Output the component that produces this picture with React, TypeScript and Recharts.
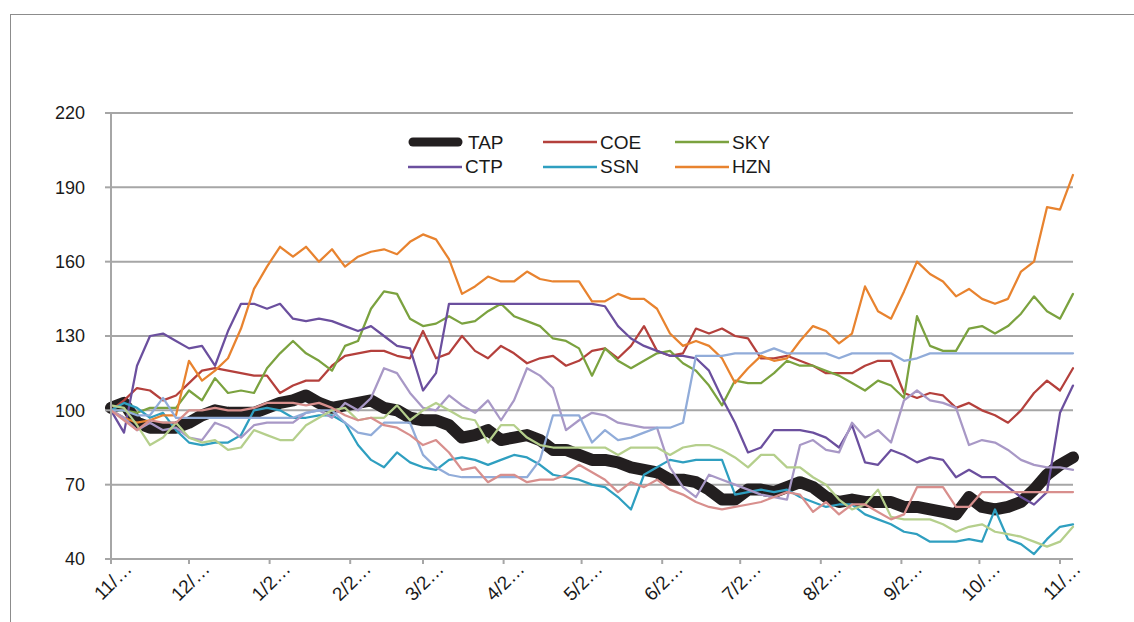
import { LineChart, Line, XAxis, YAxis, CartesianGrid, Legend } from 'recharts'

// sampling grid: days since 11/1, every 5 days
const days = [
  0, 5, 10, 15, 20, 25, 30, 35, 40, 45, 50, 55, 60, 65, 70, 75, 80, 85, 90, 95,
  100, 105, 110, 115, 120, 125, 130, 135, 140, 145, 150, 155, 160, 165, 170, 175, 180, 185, 190, 195,
  200, 205, 210, 215, 220, 225, 230, 235, 240, 245, 250, 255, 260, 265, 270, 275, 280, 285, 290, 295,
  300, 305, 310, 315, 320, 325, 330, 335, 340, 345, 350, 355, 360, 365, 370,
]

const monthTicks = [0, 30, 61, 92, 120, 151, 181, 212, 242, 273, 304, 334, 365]
const monthLabels = ['11/…', '12/…', '1/2…', '2/2…', '3/2…', '4/2…', '5/2…', '6/2…', '7/2…', '8/2…', '9/2…', '10/…', '11/…']
const yTicks = [40, 70, 100, 130, 160, 190, 220]
const legendOrder = ['TAP', 'COE', 'SKY', 'CTP', 'SSN', 'HZN']

const tap = [
  101, 103, 95, 93, 93, 93, 95, 98, 100, 99, 99, 99, 101, 103, 104, 106, 103, 101, 102, 103,
  104, 101, 100, 97, 96, 96, 94, 89, 90, 92, 88, 89, 90, 88, 84, 84, 82, 80, 80, 79,
  77, 76, 75, 72, 72, 71, 68, 64, 64, 68, 68, 67, 69, 71, 69, 65, 63, 64, 63, 63,
  63, 61, 61, 60, 59, 58, 65, 61, 60, 61, 63, 68, 74, 78, 81,
]
const coe = [
  100, 104, 109, 108, 104, 106, 111, 116, 117, 116, 115, 114, 114, 107, 110, 112, 112, 118, 122, 123,
  124, 124, 122, 121, 132, 121, 123, 130, 124, 121, 126, 123, 119, 121, 122, 118, 120, 124, 125, 121,
  126, 134, 124, 122, 123, 133, 131, 133, 130, 129, 121, 121, 122, 120, 118, 115, 115, 115, 118, 120,
  120, 107, 105, 107, 106, 101, 103, 100, 98, 95, 100, 107, 112, 108, 117,
]
const sky = [
  100, 100, 99, 101, 101, 101, 108, 104, 113, 107, 108, 107, 117, 123, 128, 123, 120, 116, 126, 128,
  141, 148, 147, 137, 134, 135, 138, 135, 136, 140, 143, 138, 136, 134, 129, 128, 125, 114, 125, 120,
  117, 120, 123, 124, 119, 116, 110, 102, 112, 111, 111, 115, 120, 118, 118, 116, 114, 111, 108, 112,
  110, 105, 138, 126, 124, 124, 133, 134, 131, 134, 139, 146, 140, 137, 147,
]
const ctp = [
  100, 91, 118, 130, 131, 128, 125, 126, 118, 132, 143, 143, 141, 143, 137, 136, 137, 136, 134, 132,
  134, 130, 126, 125, 108, 115, 143, 143, 143, 143, 143, 143, 143, 143, 143, 143, 143, 143, 142, 134,
  129, 126, 124, 122, 122, 121, 116, 105, 95, 83, 85, 92, 92, 92, 91, 89, 85, 94, 79, 78,
  84, 82, 79, 81, 80, 73, 76, 73, 73, 69, 65, 62, 67, 99, 110,
]
const ssn = [
  100, 103, 101, 97, 99, 92, 87, 86, 87, 87, 90, 100, 101, 100, 97, 97, 98, 98, 95, 86,
  80, 77, 83, 79, 77, 76, 80, 81, 80, 78, 80, 82, 81, 78, 74, 73, 72, 70, 69, 65,
  60, 74, 77, 80, 79, 80, 80, 80, 66, 67, 68, 67, 68, 65, 63, 61, 62, 62, 58, 56,
  54, 51, 50, 47, 47, 47, 48, 47, 60, 48, 46, 42, 48, 53, 54,
]
const hzn = [
  100, 97, 95, 96, 98, 98, 120, 112, 116, 121, 133, 149, 158, 166, 162, 166, 160, 165, 158, 162,
  164, 165, 163, 168, 171, 169, 161, 147, 150, 154, 152, 152, 156, 153, 152, 152, 152, 144, 144, 147,
  145, 145, 141, 131, 126, 128, 126, 121, 111, 117, 122, 120, 121, 128, 134, 132, 127, 131, 150, 140,
  137, 148, 160, 155, 152, 146, 149, 145, 143, 145, 156, 160, 182, 181, 195,
]
// unlabeled series (no legend entry)
const lavender = [
  100, 97, 92, 95, 92, 93, 89, 88, 95, 93, 89, 94, 95, 95, 95, 99, 100, 97, 103, 100,
  105, 117, 115, 107, 101, 100, 106, 102, 99, 104, 96, 104, 117, 114, 109, 92, 96, 99, 98, 95,
  94, 93, 93, 77, 69, 65, 74, 72, 70, 68, 66, 65, 64, 86, 88, 84, 83, 95, 89, 92,
  87, 104, 108, 104, 103, 101, 86, 88, 87, 84, 80, 78, 77, 77, 76,
]
const lightBlue = [
  100, 100, 98, 98, 105, 97, 97, 97, 97, 97, 97, 97, 97, 97, 97, 99, 100, 100, 95, 91,
  90, 95, 95, 95, 82, 77, 74, 73, 73, 73, 73, 73, 73, 80, 98, 98, 98, 87, 92, 88,
  89, 91, 93, 93, 95, 122, 122, 122, 123, 123, 123, 125, 123, 123, 123, 123, 121, 123, 123, 123,
  123, 120, 121, 123, 123, 123, 123, 123, 123, 123, 123, 123, 123, 123, 123,
]
const lightGreen = [
  102, 101, 94, 86, 89, 95, 89, 87, 88, 84, 85, 92, 90, 88, 88, 94, 97, 100, 101, 96,
  97, 97, 102, 96, 100, 103, 100, 97, 96, 87, 94, 94, 89, 86, 85, 85, 85, 85, 85, 82,
  85, 85, 85, 82, 85, 86, 86, 84, 81, 77, 82, 82, 77, 77, 73, 70, 64, 60, 62, 68,
  57, 56, 56, 56, 54, 51, 53, 54, 51, 50, 49, 47, 45, 47, 53,
]
const pink = [
  100, 96, 92, 96, 95, 95, 100, 100, 101, 100, 100, 101, 103, 103, 103, 102, 103, 101, 98, 96,
  97, 94, 93, 90, 86, 88, 83, 76, 77, 71, 74, 74, 71, 72, 72, 74, 78, 75, 72, 67,
  71, 69, 72, 68, 66, 63, 61, 60, 61, 62, 63, 65, 67, 66, 59, 63, 58, 62, 62, 59,
  56, 58, 69, 69, 69, 61, 61, 67, 67, 67, 67, 67, 67, 67, 67,
]

const series = [
  { key: 'TAP', values: tap, color: '#231f20', width: 12, legend: true },
  { key: 'COE', values: coe, color: '#b4403c', width: 2.25, legend: true },
  { key: 'SKY', values: sky, color: '#7ba23f', width: 2.25, legend: true },
  { key: 'CTP', values: ctp, color: '#6b4f9e', width: 2.25, legend: true },
  { key: 'SSN', values: ssn, color: '#2f9fc0', width: 2.25, legend: true },
  { key: 'HZN', values: hzn, color: '#e8832f', width: 2.25, legend: true },
  { key: 'LAV', values: lavender, color: '#a898c6', width: 2.25, legend: false },
  { key: 'LBL', values: lightBlue, color: '#91acd9', width: 2.25, legend: false },
  { key: 'LGR', values: lightGreen, color: '#b5cf8c', width: 2.25, legend: false },
  { key: 'PNK', values: pink, color: '#d88f8d', width: 2.25, legend: false },
]

const data = days.map((day, i) => {
  const row: Record<string, number> = { day }
  series.forEach((s) => {
    row[s.key] = s.values[i]
  })
  return row
})

const FONT = '"Liberation Sans", Arial, sans-serif'
const GRID = '#a6a6a6'

function XTick({ x, y, payload }: any) {
  const label = monthLabels[monthTicks.indexOf(payload.value)]
  return (
    <g transform={`translate(${x + 22},${y + 4})`}>
      <text textAnchor="end" transform="rotate(-45)" fontSize={19} fill="#1a1a1a" fontFamily={FONT}>
        {label}
      </text>
    </g>
  )
}

// only the six named series get a legend entry, in the reference's order
function LegendBox() {
  return (
    <div style={{ display: 'grid', gridTemplateColumns: '135px 132px 132px', fontFamily: FONT, fontSize: 19, color: '#1a1a1a' }}>
      {legendOrder.map((name) => {
        const s = series.find((item) => item.key === name)!
        const thick = name === 'TAP'
        return (
          <div key={name} style={{ display: 'flex', alignItems: 'center', height: 24.5 }}>
            <svg width={thick ? 60 : 57} height={14}>
              {thick ? (
                <line x1={5} y1={7} x2={50} y2={7} stroke={s.color} strokeWidth={9} strokeLinecap="round" />
              ) : (
                <line x1={0} y1={7} x2={54} y2={7} stroke={s.color} strokeWidth={2.5} />
              )}
            </svg>
            <span style={{ lineHeight: 1 }}>{name}</span>
          </div>
        )
      })}
    </div>
  )
}

export default function App() {
  return (
    <div style={{ position: 'absolute', left: 0, top: 0, width: 1134, height: 622, overflow: 'hidden', background: '#fff' }}>
      <div style={{ position: 'absolute', left: 10, top: 14, width: 1200, height: 700, border: '1px solid #8c8c8c' }} />
      <div style={{ position: 'absolute', left: 0, top: 0 }}>
        <LineChart width={1134} height={622} data={data} margin={{ top: 113, right: 61, bottom: 0, left: 0 }}>
          <CartesianGrid vertical={false} stroke={GRID} strokeWidth={2} />
          <XAxis
            dataKey="day"
            type="number"
            domain={[0, 370]}
            ticks={monthTicks}
            interval={0}
            height={63}
            tickSize={5}
            tickMargin={2}
            stroke={GRID}
            strokeWidth={2}
            tick={<XTick />}
          />
          <YAxis
            type="number"
            domain={[40, 220]}
            ticks={yTicks}
            interval={0}
            width={111}
            tickSize={6}
            tickMargin={20}
            stroke={GRID}
            strokeWidth={2}
            tick={{ fontSize: 18, fill: '#1a1a1a', fontFamily: FONT }}
          />
          <Legend
            layout="horizontal"
            verticalAlign="middle"
            align="center"
            wrapperStyle={{ left: 408, top: 130, width: 420 }}
            content={<LegendBox />}
          />
          {series.map((s) => (
            <Line
              key={s.key}
              dataKey={s.key}
              name={s.key}
              type="linear"
              stroke={s.color}
              strokeWidth={s.width}
              strokeLinejoin="round"
              strokeLinecap="round"
              dot={false}
              activeDot={false}
              legendType={s.legend ? 'line' : 'none'}
              isAnimationActive={false}
            />
          ))}
        </LineChart>
      </div>
    </div>
  )
}
